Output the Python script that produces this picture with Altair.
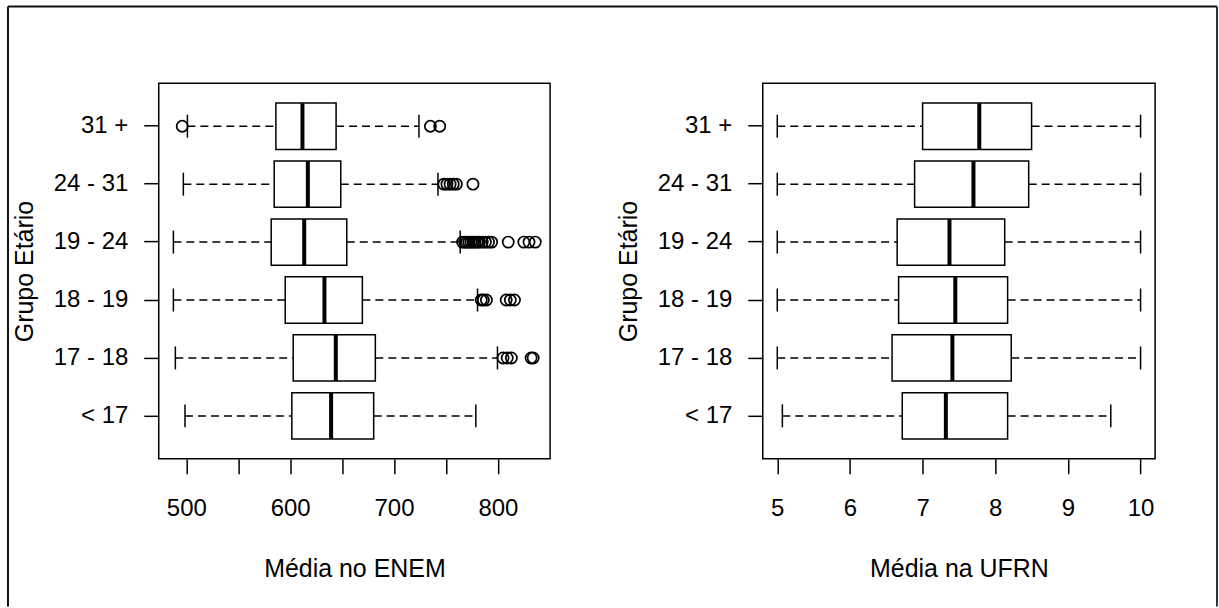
import altair as alt
import pandas as pd

# ---- data ----
groups = ["< 17", "17 - 18", "18 - 19", "19 - 24", "24 - 31", "31 +"]
order_top = groups[::-1]

enem_lo = [498.7, 489.4, 487.5, 487.5, 497.1, 501.0]
enem_q1 = [601.6, 602.9, 595.2, 581.7, 584.6, 586.2]
enem_med = [639.4, 643.9, 633.0, 613.5, 617.0, 611.8]
enem_q3 = [680.4, 682.0, 669.5, 654.5, 648.7, 644.2]
enem_hi = [778.8, 799.6, 780.4, 763.7, 742.3, 724.0]

enem_out_group = (["17 - 18"] * 5 + ["18 - 19"] * 6 + ["19 - 24"] * 17
                  + ["24 - 31"] * 6 + ["31 +"] * 3)
enem_out_value = [805, 809, 813, 832, 834,
                  784, 786, 789, 808, 812, 816,
                  766, 768, 770, 772, 774, 776, 778, 780, 782, 785, 788, 791, 794, 810, 825, 830, 836,
                  748, 751, 754, 757, 760, 776,
                  496, 735, 744]

ufrn_lo = [5.07, 5.0, 5.0, 5.0, 5.0, 5.0]
ufrn_q1 = [6.72, 6.58, 6.67, 6.65, 6.89, 7.00]
ufrn_med = [7.32, 7.41, 7.45, 7.37, 7.70, 7.78]
ufrn_q3 = [8.17, 8.22, 8.17, 8.13, 8.46, 8.50]
ufrn_hi = [9.59, 10.0, 10.0, 10.0, 10.0, 10.0]

enem_ticks = [500, 550, 600, 650, 700, 750, 800]
ufrn_ticks = [5, 6, 7, 8, 9, 10]

FONT = "Liberation Sans"
LFS = 24
TFS = 25


def panel(lo, q1, med, q3, hi, out_g, out_v, domain, ticks, xtitle, label_expr):
    df = pd.DataFrame(dict(grupo=groups, lo=lo, q1=q1, med=med, q3=q3, hi=hi))
    xs = alt.Scale(domain=domain, nice=False, zero=False)
    xaxis = alt.Axis(values=ticks, labelExpr=label_expr, title=xtitle,
                     labelPadding=23, titleY=110, titleBaseline="middle")
    ys = alt.Scale(type="band", domain=order_top, paddingInner=0, paddingOuter=0.24)
    yaxis = alt.Axis(title="Grupo Etário", labelPadding=16, titleX=-134,
                     titleBaseline="middle", labelAlign="right")
    Y = alt.Y("grupo:N", scale=ys, sort=order_top, axis=yaxis)

    def X(f):
        return alt.X(f, type="quantitative", scale=xs, axis=xaxis)

    base = alt.Chart(df)
    dash = [8, 5]
    w_lo = base.mark_rule(color="black", strokeWidth=1.5, strokeDash=dash).encode(
        x=X("lo"), x2="q1", y=Y)
    w_hi = base.mark_rule(color="black", strokeWidth=1.5, strokeDash=dash).encode(
        x=X("q3"), x2="hi", y=Y)
    box = base.mark_bar(fill="white", stroke="black", strokeWidth=1.5,
                        height=alt.RelativeBandSize(0.8)).encode(x=X("q1"), x2="q3", y=Y)
    mline = base.mark_tick(color="black", size=46, thickness=4, opacity=1).encode(x=X("med"), y=Y)
    st_lo = base.mark_tick(color="black", size=23, thickness=1.5, opacity=1).encode(x=X("lo"), y=Y)
    st_hi = base.mark_tick(color="black", size=23, thickness=1.5, opacity=1).encode(x=X("hi"), y=Y)
    layers = [w_lo, w_hi, box, mline, st_lo, st_hi]
    if out_g:
        odf = pd.DataFrame(dict(grupo=out_g, valor=out_v))
        pts = alt.Chart(odf).mark_point(shape="circle", filled=False, color="black",
                                        size=125, strokeWidth=1.7, opacity=1).encode(
            x=X("valor"), y=Y)
        layers.append(pts)
    return layers


left_layers = panel(enem_lo, enem_q1, enem_med, enem_q3, enem_hi,
                    enem_out_group, enem_out_value, [473.4, 850.3], enem_ticks,
                    "Média no ENEM", "datum.value % 100 === 0 ? datum.label : ''")
right_layers = panel(ufrn_lo, ufrn_q1, ufrn_med, ufrn_q3, ufrn_hi,
                     [], [], [4.8, 10.2], ufrn_ticks, "Média na UFRN", "datum.label")

# outer figure frame (decoration)
one = alt.Chart(pd.DataFrame({"a": [0]}))
frame_top = one.mark_rule(color="#111", strokeWidth=2).encode(
    x=alt.value(-151), x2=alt.value(1060), y=alt.value(-77))
frame_left = one.mark_rule(color="#111", strokeWidth=2).encode(
    x=alt.value(-151), y=alt.value(-77), y2=alt.value(524))
frame_right = one.mark_rule(color="#333", strokeWidth=2).encode(
    x=alt.value(1060), y=alt.value(-77), y2=alt.value(524))

left = alt.layer(frame_top, frame_left, frame_right, *left_layers).properties(width=392, height=376)
right = alt.layer(*right_layers).properties(width=393, height=376)

chart = alt.hconcat(left, right, spacing=213, bounds="flush").properties(
    padding={"left": 6, "top": 4, "right": 0, "bottom": 0},
    background="white",
).configure_view(stroke="black", strokeWidth=1.5).configure_axis(
    labelFont=FONT, labelFontSize=LFS, labelColor="black",
    titleFont=FONT, titleFontSize=TFS, titleFontWeight="normal", titleColor="black",
    tickColor="black", tickWidth=1.5, tickSize=15, domain=False, grid=False,
)

chart.save("out.html", embed_options={"renderer": "svg", "actions": False})
